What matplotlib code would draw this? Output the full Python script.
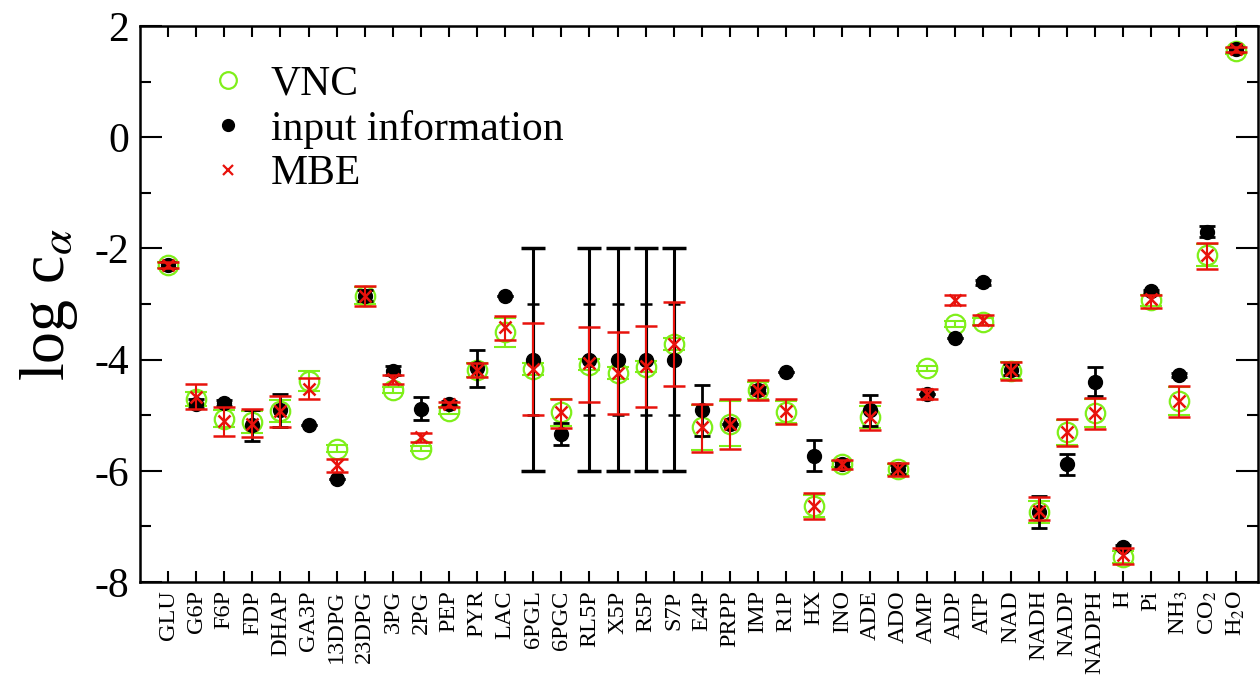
import matplotlib
matplotlib.use('Agg')
import matplotlib.pyplot as plt
from matplotlib.lines import Line2D
import numpy as np

plt.rcParams['font.family'] = ['Liberation Serif', 'DejaVu Serif']
plt.rcParams['mathtext.fontset'] = 'stix'
plt.rcParams['axes.unicode_minus'] = False

# 代谢物名称
names = ['GLU', 'G6P', 'F6P', 'FDP', 'DHAP', 'GA3P', '13DPG', '23DPG', '3PG', '2PG',
         'PEP', 'PYR', 'LAC', '6PGL', '6PGC', 'RL5P', 'X5P', 'R5P', 'S7P', 'E4P',
         'PRPP', 'IMP', 'R1P', 'HX', 'INO', 'ADE', 'ADO', 'AMP', 'ADP', 'ATP',
         'NAD', 'NADH', 'NADP', 'NADPH', 'H', 'Pi', 'NH$_3$', 'CO$_2$', 'H$_2$O']

# VNC
vnc = [-2.30, -4.71, -5.06, -5.12, -4.92, -4.38, -5.60, -2.85, -4.55, -5.60,
       -4.92, -4.19, -3.51, -4.17, -4.95, -4.09, -4.24, -4.13, -3.72, -5.22,
       -5.15, -4.55, -4.94, -6.63, -5.88, -5.03, -5.97, -4.16, -3.36, -3.32,
       -4.20, -6.74, -5.31, -4.96, -7.55, -2.93, -4.75, -2.12, 1.55]
vnc_err = [0.05, 0.12, 0.15, 0.20, 0.20, 0.18, 0.06, 0.15, 0.05, 0.05,
           0.06, 0.12, 0.26, 0.10, 0.25, 0.10, 0.10, 0.10, 0.10, 0.40,
           0.40, 0.15, 0.20, 0.20, 0.06, 0.20, 0.10, 0.05, 0.05, 0.06,
           0.15, 0.20, 0.22, 0.25, 0.10, 0.10, 0.25, 0.20, 0.05]

# input information
inp = [-2.30, -4.79, -4.78, -5.18, -4.91, -5.18, -6.14, -2.85, -4.20, -4.88,
       -4.79, -4.16, -2.86, -4.00, -5.34, -4.00, -4.00, -4.00, -4.00, -4.91,
       -5.15, -4.55, -4.22, -5.73, -5.88, -4.91, -5.97, -4.61, -3.61, -2.61,
       -4.18, -6.74, -5.88, -4.40, -7.37, -2.77, -4.28, -1.70, 1.58]
inp_err = [0.05, 0.08, 0.06, 0.28, 0.30, 0.0, 0.0, 0.10, 0.08, 0.20,
           0.05, 0.33, 0.0, 2.0, 0.20, 2.0, 2.0, 2.0, 2.0, 0.46,
           0.0, 0.05, 0.0, 0.28, 0.05, 0.28, 0.08, 0.0, 0.0, 0.05,
           0.10, 0.28, 0.19, 0.26, 0.04, 0.03, 0.03, 0.10, 0.04]
# 宽误差条内部的小刻度 (±1)
inp_inner_idx = [13, 15, 16, 17, 18]
inp_inner_err = [1.0, 1.0, 1.0, 1.0, 1.0]

# MBE
mbe = [-2.30, -4.68, -5.10, -5.16, -4.92, -4.52, -5.90, -2.85, -4.35, -5.40,
       -4.80, -4.18, -3.42, -4.17, -4.95, -4.07, -4.24, -4.12, -3.72, -5.22,
       -5.15, -4.55, -4.92, -6.63, -5.88, -5.03, -5.97, -4.61, -2.93, -3.29,
       -4.18, -6.72, -5.31, -4.96, -7.51, -2.91, -4.75, -2.12, 1.58]
mbe_lo = [-2.36, -4.88, -5.37, -5.40, -5.22, -4.71, -6.02, -3.04, -4.43, -5.48,
          -4.86, -4.31, -3.65, -5.00, -5.23, -4.76, -4.98, -4.85, -4.47, -5.66,
          -5.60, -4.73, -5.15, -6.87, -5.96, -5.26, -6.09, -4.70, -3.02, -3.38,
          -4.37, -6.89, -5.55, -5.24, -7.68, -3.08, -5.04, -2.37, 1.53]
mbe_hi = [-2.24, -4.44, -4.85, -4.89, -4.65, -4.33, -5.78, -2.68, -4.28, -5.32,
          -4.76, -4.06, -3.21, -3.34, -4.70, -3.42, -3.50, -3.40, -2.97, -4.79,
          -4.70, -4.37, -4.71, -6.40, -5.81, -4.77, -5.86, -4.52, -2.84, -3.20,
          -4.04, -6.48, -5.07, -4.69, -7.39, -2.84, -4.47, -1.91, 1.63]

green = '#7FEF1A'
red = '#E8120C'

x = np.arange(len(names))
fig = plt.figure(figsize=(12.6, 6.76), dpi=100)
ax = fig.add_axes([140/1260, 1-582/676, 1118/1260, 556/676])

# VNC
ax.errorbar(x, vnc, yerr=vnc_err, fmt='none', ecolor=green, elinewidth=1.5,
            capsize=8, capthick=1.5, zorder=2)
ax.plot(x, vnc, 'o', ms=14, mfc='none', mec=green, mew=1.6, zorder=3)

# input information
ax.errorbar(x, inp, yerr=inp_err, fmt='none', ecolor='black', elinewidth=2,
            capsize=6, capthick=2, zorder=4)
big = [i for i in range(len(x)) if inp_err[i] >= 1.5]
ax.errorbar(x[big], [inp[i] for i in big], yerr=[inp_err[i] for i in big], fmt='none',
            ecolor='black', elinewidth=2.2, capsize=8.5, capthick=2.5, zorder=4)
ax.errorbar(x[inp_inner_idx], [inp[i] for i in inp_inner_idx], yerr=inp_inner_err,
            fmt='none', ecolor='black', elinewidth=2.2, capsize=4, capthick=1.8, zorder=4)
ax.plot(x, inp, 'o', ms=10, color='black', zorder=5)

# MBE
ax.errorbar(x, mbe, yerr=[np.array(mbe) - np.array(mbe_lo), np.array(mbe_hi) - np.array(mbe)],
            fmt='none', ecolor=red, elinewidth=1.5, capsize=8, capthick=1.8, zorder=6)
ax.plot(x, mbe, 'x', ms=9, mew=1.8, color=red, zorder=7)

ax.set_xlim(-1, 38.8)
ax.set_ylim(-8, 2)
ax.set_xticks(x)
ax.set_xticklabels(names, rotation=90, fontsize=17.5)
ax.set_yticks([-8, -6, -4, -2, 0, 2])
ax.set_yticks(np.arange(-7, 2, 2), minor=True)
ax.tick_params(axis='y', which='major', labelsize=30, direction='in', length=16, width=1.5,
               right=True, pad=8)
ax.tick_params(axis='y', which='minor', direction='in', length=8, width=1.5, right=True)
ax.tick_params(axis='x', which='major', direction='in', length=8, width=1.5, top=True, pad=6)
for s in ax.spines.values():
    s.set_linewidth(1.8)

ax.set_ylabel(r'log c$_{\alpha}$', fontsize=46, labelpad=10)

handles = [Line2D([], [], ls='none', marker='o', ms=12, mfc='none', mec=green, mew=1.6),
           Line2D([], [], ls='none', marker='o', ms=8.5, color='black'),
           Line2D([], [], ls='none', marker='x', ms=7, mew=1.6, color=red)]
ax.legend(handles, ['VNC', 'input information', 'MBE'], loc='upper left',
          bbox_to_anchor=(0.045, 0.96), frameon=False, fontsize=30,
          handlelength=1.0, handletextpad=0.53, labelspacing=0.15, borderaxespad=0)

plt.savefig('out.png', dpi=100)
